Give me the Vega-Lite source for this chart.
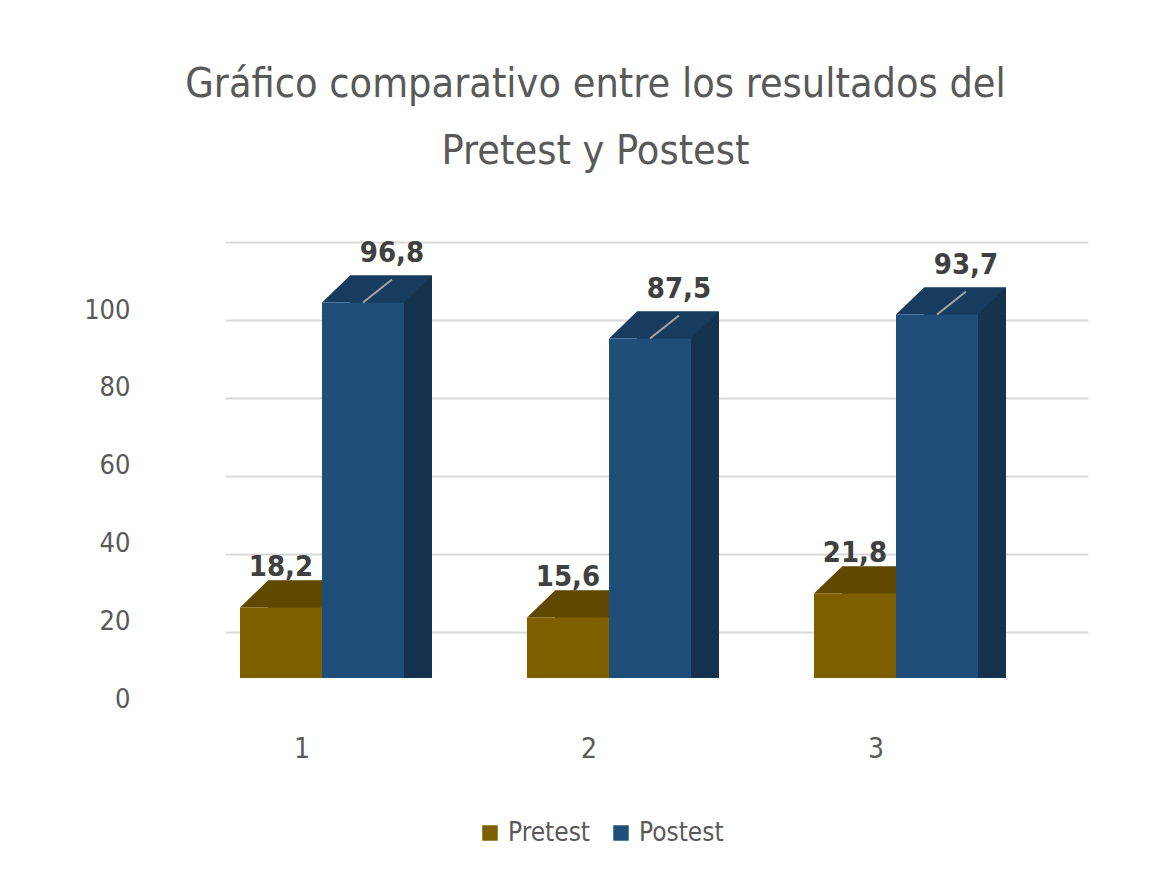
{
  "$schema": "https://vega.github.io/schema/vega-lite/v6.json",
  "autosize": {"type": "none"},
  "width": 863,
  "height": 436,
  "padding": {"left": 225, "top": 242, "right": 84, "bottom": 209},
  "background": "white",
  "config": {
    "locale": {"number": {"decimal": ",", "thousands": ".", "grouping": [3], "currency": ["", " €"]}},
    "view": {"stroke": null},
    "font": "DejaVu Sans Condensed, Open Sans"
  },
  "title": {
    "text": ["Gráfico comparativo entre los resultados del", "Pretest y Postest"],
    "fontSize": 41,
    "fontWeight": "normal",
    "font": "DejaVu Sans Condensed, Open Sans",
    "color": "#595959",
    "anchor": "middle",
    "dx": -61,
    "lineHeight": 67,
    "offset": 66
  },
  "data": {
    "values": [
      {"grupo": "1", "serie": "Pretest", "valor": 18.2},
      {"grupo": "1", "serie": "Postest", "valor": 96.8},
      {"grupo": "2", "serie": "Pretest", "valor": 15.6},
      {"grupo": "2", "serie": "Postest", "valor": 87.5},
      {"grupo": "3", "serie": "Pretest", "valor": 21.8},
      {"grupo": "3", "serie": "Postest", "valor": 93.7}
    ]
  },
  "resolve": {"scale": {"y": "independent", "xOffset": "independent"}, "axis": {"y": "independent"}},
  "layer": [
    {
      "mark": {"type": "point", "opacity": 0},
      "encoding": {
        "y": {
          "field": "valor", "type": "quantitative",
          "scale": {"domain": [-11.795, 100], "nice": false, "zero": false},
          "axis": {
            "orient": "left", "values": [0, 20, 40, 60, 80, 100], "grid": true,
            "gridColor": "#d9d9d9", "gridWidth": 2, "domain": false, "ticks": false, "tickSize": 0,
            "labelPadding": 95, "labelOffset": 68, "labelFontSize": 27, "labelColor": "#595959",
            "labelFlush": false, "labelOverlap": false, "title": null
          }
        }
      }
    },
    {
      "mark": {"type": "bar", "yOffset": -27, "y2Offset": -27},
      "encoding": {
        "x": {"field": "grupo", "type": "nominal", "title": null,
              "scale": {"paddingInner": 0.42857, "paddingOuter": 0.21777, "align": 0.12},
              "axis": {"labelAngle": 0, "labelFontSize": 28, "labelColor": "#595959", "labelOffset": -20,
                       "labelPadding": 57, "domain": false, "ticks": false, "tickSize": 0, "grid": false, "title": null}},
        "xOffset": {"field": "serie", "type": "nominal",
                    "scale": {"domain": ["Pretest", "Postest"], "range": [28, 192], "paddingInner": 0, "paddingOuter": 0}},
        "y": {"field": "valor", "type": "quantitative", "stack": null, "axis": null,
              "scale": {"domain": [0, 112.37], "nice": false}},
        "color": {"condition": {"test": "datum.serie == 'Pretest'", "value": "#4f3c00"}, "value": "#15324f"}
      }
    },
    {
      "mark": {"type": "point", "shape": "M41,-27L69,-27L41,0Z", "size": 4, "filled": true, "opacity": 1, "strokeWidth": 0},
      "encoding": {
        "x": {"field": "grupo", "type": "nominal", "title": null,
              "scale": {"paddingInner": 0.42857, "paddingOuter": 0.21777, "align": 0.12},
              "axis": {"labelAngle": 0, "labelFontSize": 28, "labelColor": "#595959", "labelOffset": -20,
                       "labelPadding": 57, "domain": false, "ticks": false, "tickSize": 0, "grid": false, "title": null}},
        "xOffset": {"field": "serie", "type": "nominal",
                    "scale": {"type": "point", "domain": ["Pretest", "Postest"], "padding": 0.5}},
        "y": {"datum": 0, "type": "quantitative", "axis": null,
              "scale": {"domain": [0, 112.37], "nice": false}},
        "color": {"condition": {"test": "datum.serie == 'Pretest'", "value": "#4f3c00"}, "value": "#15324f"}
      }
    },
    {
      "mark": {"type": "point", "shape": "M-41,0L-13,-27L69,-27L41,0Z", "size": 4, "filled": true, "opacity": 1, "strokeWidth": 0},
      "encoding": {
        "x": {"field": "grupo", "type": "nominal", "title": null,
              "scale": {"paddingInner": 0.42857, "paddingOuter": 0.21777, "align": 0.12},
              "axis": {"labelAngle": 0, "labelFontSize": 28, "labelColor": "#595959", "labelOffset": -20,
                       "labelPadding": 57, "domain": false, "ticks": false, "tickSize": 0, "grid": false, "title": null}},
        "xOffset": {"field": "serie", "type": "nominal",
                    "scale": {"type": "point", "domain": ["Pretest", "Postest"], "padding": 0.5}},
        "y": {"field": "valor", "type": "quantitative", "axis": null,
              "scale": {"domain": [0, 112.37], "nice": false}},
        "color": {"condition": {"test": "datum.serie == 'Pretest'", "value": "#604800"}, "value": "#183c60"}
      }
    },
    {
      "mark": {"type": "bar"},
      "encoding": {
        "x": {"field": "grupo", "type": "nominal", "title": null,
              "scale": {"paddingInner": 0.42857, "paddingOuter": 0.21777, "align": 0.12},
              "axis": {"labelAngle": 0, "labelFontSize": 28, "labelColor": "#595959", "labelOffset": -20,
                       "labelPadding": 57, "domain": false, "ticks": false, "tickSize": 0, "grid": false, "title": null}},
        "xOffset": {"field": "serie", "type": "nominal",
                    "scale": {"domain": ["Pretest", "Postest"], "paddingInner": 0, "paddingOuter": 0}},
        "y": {"field": "valor", "type": "quantitative", "stack": null, "axis": null,
              "scale": {"domain": [0, 112.37], "nice": false}},
        "color": {
          "field": "serie", "type": "nominal",
          "scale": {"domain": ["Pretest", "Postest"], "range": ["#7f6000", "#1f4e79"]},
          "legend": {
            "title": null, "orient": "none", "legendX": 252, "legendY": 578, "direction": "horizontal",
            "symbolType": "square", "symbolSize": 240, "symbolStrokeWidth": 0, "symbolOpacity": 1,
            "labelFontSize": 26, "labelColor": "#595959", "labelOffset": 5, "columnPadding": 18
          }
        }
      }
    },
    {
      "transform": [{"filter": "datum.serie == 'Postest'"}],
      "mark": {"type": "point", "shape": "M0,0L29,-23", "size": 4, "filled": false, "stroke": "#a6a6a6", "strokeWidth": 2, "opacity": 1},
      "encoding": {
        "x": {"field": "grupo", "type": "nominal", "title": null,
              "scale": {"paddingInner": 0.42857, "paddingOuter": 0.21777, "align": 0.12},
              "axis": {"labelAngle": 0, "labelFontSize": 28, "labelColor": "#595959", "labelOffset": -20,
                       "labelPadding": 57, "domain": false, "ticks": false, "tickSize": 0, "grid": false, "title": null}},
        "xOffset": {"field": "serie", "type": "nominal",
                    "scale": {"type": "point", "domain": ["Pretest", "Postest"], "padding": 0.5}},
        "y": {"field": "valor", "type": "quantitative", "axis": null,
              "scale": {"domain": [0, 112.37], "nice": false}}
      }
    },
    {
      "transform": [{"filter": "datum.serie == 'Pretest'"}],
      "mark": {"type": "text", "dy": -31, "baseline": "alphabetic", "fontSize": 29, "fontWeight": "bold", "color": "#404040"},
      "encoding": {
        "x": {"field": "grupo", "type": "nominal", "title": null,
              "scale": {"paddingInner": 0.42857, "paddingOuter": 0.21777, "align": 0.12},
              "axis": {"labelAngle": 0, "labelFontSize": 28, "labelColor": "#595959", "labelOffset": -20,
                       "labelPadding": 57, "domain": false, "ticks": false, "tickSize": 0, "grid": false, "title": null}},
        "xOffset": {"field": "serie", "type": "nominal",
                    "scale": {"type": "point", "domain": ["Pretest", "Postest"], "padding": 0.5}},
        "y": {"field": "valor", "type": "quantitative", "axis": null,
              "scale": {"domain": [0, 112.37], "nice": false}},
        "text": {"field": "valor", "type": "quantitative", "format": ".1f"}
      }
    },
    {
      "transform": [{"filter": "datum.serie == 'Postest'"}],
      "mark": {"type": "text", "dx": 29, "dy": -40, "baseline": "alphabetic", "fontSize": 29, "fontWeight": "bold", "color": "#404040"},
      "encoding": {
        "x": {"field": "grupo", "type": "nominal", "title": null,
              "scale": {"paddingInner": 0.42857, "paddingOuter": 0.21777, "align": 0.12},
              "axis": {"labelAngle": 0, "labelFontSize": 28, "labelColor": "#595959", "labelOffset": -20,
                       "labelPadding": 57, "domain": false, "ticks": false, "tickSize": 0, "grid": false, "title": null}},
        "xOffset": {"field": "serie", "type": "nominal",
                    "scale": {"type": "point", "domain": ["Pretest", "Postest"], "padding": 0.5}},
        "y": {"field": "valor", "type": "quantitative", "axis": null,
              "scale": {"domain": [0, 112.37], "nice": false}},
        "text": {"field": "valor", "type": "quantitative", "format": ".1f"}
      }
    }
  ]
}
